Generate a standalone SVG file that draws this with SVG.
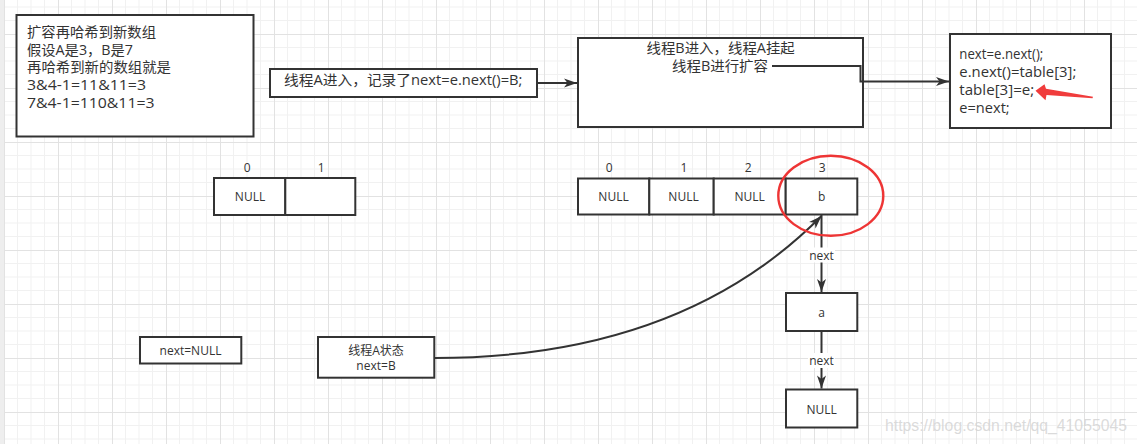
<svg xmlns="http://www.w3.org/2000/svg" width="1137" height="444" viewBox="0 0 1137 444">
<style>
.box{fill:#fff;stroke:#333;stroke-width:2}
.t{font-family:"Open Sans","Noto Sans CJK SC",sans-serif;fill:#333}
.s14{font-size:14px}
.s12{font-size:12px}
.c{text-anchor:middle}
.line{fill:none;stroke:#333;stroke-width:2}
.lbl{fill:#fff;stroke:none}
</style>
<defs>
<pattern id="grid" patternUnits="userSpaceOnUse" x="4" y="34" width="54" height="54">
<path d="M13.5,0V54M27,0V54M40.5,0V54M0,13.5H54M0,27H54M0,40.5H54" stroke="#f1f1f1" stroke-width="1"/>
<path d="M0.5,0V54M0,0.5H54" stroke="#e2e2e2" stroke-width="1"/>
</pattern>
<marker id="arr" markerUnits="userSpaceOnUse" markerWidth="14" markerHeight="10" refX="13" refY="5" orient="auto" overflow="visible">
<path d="M0,0.5 L13,5 L0,9.5 L3.5,5 Z" fill="#333"/>
</marker>
</defs>
<rect x="0" y="0" width="1137" height="444" fill="#fff"/>
<rect x="0" y="0" width="1137" height="444" fill="url(#grid)"/>
<rect x="0" y="0" width="4" height="444" fill="#eeeeee"/>

<g id="note">
<rect class="box" x="16.5" y="15" width="237" height="121.5"/>
<text class="t s14" x="27" y="36.8" textLength="129" lengthAdjust="spacingAndGlyphs">扩容再哈希到新数组</text>
<text class="t s14" x="27" y="54.6" textLength="106" lengthAdjust="spacingAndGlyphs">假设A是3，B是7</text>
<text class="t s14" x="27" y="72.4" textLength="144" lengthAdjust="spacingAndGlyphs">再哈希到新的数组就是</text>
<text class="t s14" x="27" y="90.2" textLength="119" lengthAdjust="spacingAndGlyphs">3&amp;4-1=11&amp;11=3</text>
<text class="t s14" x="27" y="108" textLength="127.5" lengthAdjust="spacingAndGlyphs">7&amp;4-1=110&amp;11=3</text>
</g>

<g id="threadA">
<rect class="box" x="270" y="69" width="267" height="28"/>
<text class="t s14" x="284" y="84.5" textLength="238.5" lengthAdjust="spacingAndGlyphs">线程A进入，记录了next=e.next()=B;</text>
</g>

<g id="threadB">
<rect class="box" x="578" y="38" width="285" height="89"/>
<text class="t s14" x="646.5" y="52.7" textLength="148.3" lengthAdjust="spacingAndGlyphs">线程B进入，线程A挂起</text>
<text class="t s14" x="672" y="70.7" textLength="96" lengthAdjust="spacingAndGlyphs">线程B进行扩容</text>
</g>

<g id="ops">
<rect class="box" x="950" y="34" width="161" height="94"/>
<text class="t s14" x="959.3" y="59.3" textLength="84" lengthAdjust="spacingAndGlyphs">next=e.next();</text>
<text class="t s14" x="959.3" y="77.3" textLength="117" lengthAdjust="spacingAndGlyphs">e.next()=table[3];</text>
<text class="t s14" x="959.3" y="95.3" textLength="75" lengthAdjust="spacingAndGlyphs">table[3]=e;</text>
<text class="t s14" x="959.3" y="113.3" textLength="50.4" lengthAdjust="spacingAndGlyphs">e=next;</text>
</g>

<g id="oldTable">
<rect class="box" x="214" y="178" width="71.3" height="37"/>
<rect class="box" x="285.3" y="178" width="70" height="37"/>
<text class="t s12 c" x="247.3" y="171.6">0</text>
<text class="t s12 c" x="321.3" y="171.6">1</text>
<text class="t s12 c" x="250" y="201">NULL</text>
</g>

<g id="newTable">
<rect class="box" x="578" y="178.5" width="71.3" height="36"/>
<rect class="box" x="649.3" y="178.5" width="64.4" height="36"/>
<rect class="box" x="713.7" y="178.5" width="72" height="36"/>
<rect class="box" x="785.7" y="178.5" width="71.6" height="36"/>
<text class="t s12 c" x="609.3" y="171.6">0</text>
<text class="t s12 c" x="684" y="171.6">1</text>
<text class="t s12 c" x="748.3" y="171.6">2</text>
<text class="t s12 c" x="822.3" y="171.6">3</text>
<text class="t s12 c" x="613.5" y="201">NULL</text>
<text class="t s12 c" x="683.5" y="201">NULL</text>
<text class="t s12 c" x="749.7" y="201">NULL</text>
<text class="t s12 c" x="821.7" y="201">b</text>
</g>

<g id="nodeA">
<rect class="box" x="786" y="293" width="71.3" height="38"/>
<text class="t s12 c" x="821.7" y="316.6">a</text>
</g>

<g id="nodeNull">
<rect class="box" x="786" y="389.5" width="71.3" height="38"/>
<text class="t s12 c" x="821.7" y="413.6">NULL</text>
</g>

<g id="nextNull">
<rect class="box" x="140" y="337" width="101.3" height="26.5"/>
<text class="t s12 c" x="190.5" y="355.3">next=NULL</text>
</g>

<g id="stateA">
<rect class="box" x="318" y="337" width="116.3" height="40.7"/>
<text class="t s12 c" x="376" y="354.6">线程A状态</text>
<text class="t s12 c" x="376" y="369.6">next=B</text>
</g>

<g id="connectors">
<path class="line" d="M537,83 H577" marker-end="url(#arr)"/>
<path class="line" d="M772,66 H860.5 V81.5 H949" marker-end="url(#arr)"/>
<path class="line" d="M434.5,358 C654,358 766,272 821.5,216" marker-end="url(#arr)"/>
<path class="line" d="M821.5,215 V292" marker-end="url(#arr)"/>
<rect class="lbl" x="808" y="247.5" width="27" height="15"/>
<text class="t s12 c" x="821.5" y="259.6">next</text>
<path class="line" d="M821.5,331 V388.5" marker-end="url(#arr)"/>
<rect class="lbl" x="808" y="353" width="27" height="15"/>
<text class="t s12 c" x="821.5" y="365.3">next</text>
</g>

<g id="highlight">
<ellipse cx="830.8" cy="195.8" rx="52.5" ry="40" fill="none" stroke="#ee3535" stroke-width="2.4"/>
<polygon points="1035.5,90.7 1044.5,84.3 1046,88.8 1093,96.8 1092.5,98.3 1046.5,95 1045.5,100.3" fill="#f03c3c"/>
</g>

<text x="885" y="431" font-family="Liberation Sans, Arial, sans-serif" font-size="15.8" fill="#d4d4d4" fill-opacity="0.85" textLength="242" lengthAdjust="spacingAndGlyphs">https://blog.csdn.net/qq_41055045</text>
</svg>
